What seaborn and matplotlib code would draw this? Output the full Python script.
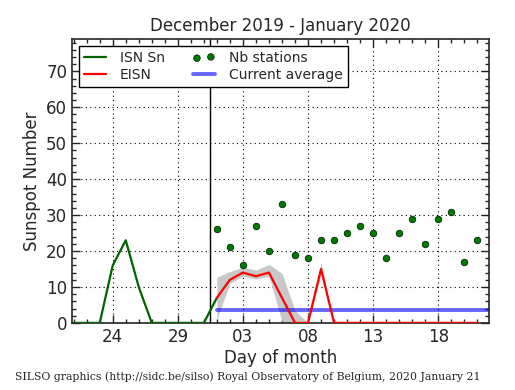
import numpy as np
import pandas as pd
import matplotlib
matplotlib.use("Agg")
import matplotlib.pyplot as plt
from matplotlib.ticker import MultipleLocator, FixedLocator, FixedFormatter
import seaborn as sns

# day index 0 = 21 December 2019, 31 = 21 January 2020
day_labels = ["24", "29", "03", "08", "13", "18"]
label_days = [3, 8, 13, 18, 23, 28]

# daily ISN Sn (21 Dec .. 1 Jan)
isn_days = list(range(0, 12))
isn_values = [0, 0, 0, 16, 23, 10, 0, 0, 0, 0, 0, 7]

# EISN (1 Jan .. 21 Jan) with error band
eisn_days = list(range(11, 32))
eisn_values = [7, 12, 14, 13, 14, 7, 0, 0, 15, 0, 0, 0, 0, 0, 0, 0, 0, 0, 0, 0, 0]
eisn_low = [1, 11, 13, 12.2, 13, 0.5, -3, 0, 13.5, 0, 0, 0, 0, 0, 0, 0, 0, 0, 0, 0, 0]
eisn_high = [12.7, 14.3, 15.5, 14.7, 16.3, 13.8, 3.5, 0, 16.8, 0, 0, 0, 0, 0, 0, 0, 0, 0, 0, 0, 0]

# number of stations
nb_stations = [26, 21, 16, 27, 20, 33, 19, 18, 23, 23, 25, 27, 25, 18, 25, 29, 22, 29, 31, 17, 23]

current_average = 3.7
month_change = 10.5

sns.set_style("ticks")
plt.rcParams['font.family'] = ['DejaVu Sans']
plt.rcParams['xtick.direction'] = 'in'
plt.rcParams['ytick.direction'] = 'in'

isn = pd.DataFrame({'day': isn_days, 'value': isn_values})
eisn = pd.DataFrame({'day': eisn_days, 'value': eisn_values,
                     'low': eisn_low, 'high': eisn_high, 'nb': nb_stations})
avg = pd.DataFrame({'day': [eisn_days[0], eisn_days[-1] + 1],
                    'value': [current_average, current_average]})

fig = plt.figure(figsize=(5.15, 3.9), dpi=100)
ax = fig.add_axes([0.140, 0.172, 0.810, 0.728])

ax.fill_between(eisn['day'], eisn['low'], eisn['high'], color='#c8c8c8', lw=0, zorder=1)
sns.lineplot(data=isn, x='day', y='value', color='#006400', lw=1.6, ax=ax, label='ISN Sn', zorder=3)
sns.lineplot(data=eisn, x='day', y='value', color='red', lw=1.6, ax=ax, label='EISN', zorder=3)
sns.scatterplot(data=eisn, x='day', y='nb', color='#007a00', edgecolor='#002a00', s=22,
                linewidth=0.6, ax=ax, label='Nb stations', zorder=4)
sns.lineplot(data=avg, x='day', y='value', color='blue', alpha=0.6, lw=2.8, ax=ax,
             label='Current average', zorder=2)
ax.axvline(month_change, color='black', lw=1, zorder=2)

ax.set_xlim(-0.12, 31.92)
ax.set_ylim(0, 79)
ax.xaxis.set_major_locator(FixedLocator(label_days))
ax.xaxis.set_major_formatter(FixedFormatter(day_labels))
ax.xaxis.set_minor_locator(MultipleLocator(1))
ax.yaxis.set_major_locator(MultipleLocator(10))
ax.yaxis.set_minor_locator(MultipleLocator(2))
ax.tick_params(which='both', top=True, right=True, labelsize=12)
ax.tick_params(which='major', length=6, width=1)
ax.tick_params(which='minor', length=3, width=1)
ax.grid(True, which='major', color='black', linestyle=(0, (1, 3)), lw=0.8)
for s in ax.spines.values():
    s.set_linewidth(1.2)

ax.set_title("December 2019 - January 2020", fontsize=12)
ax.set_xlabel("Day of month", fontsize=12, labelpad=2)
ax.set_ylabel("Sunspot Number", fontsize=12)

h, l = ax.get_legend_handles_labels()
order = [l.index(n) for n in ['ISN Sn', 'EISN', 'Nb stations', 'Current average']]
leg = ax.legend([h[i] for i in order], [l[i] for i in order], loc='upper left', ncol=2,
                fontsize=10, scatterpoints=2, fancybox=False, framealpha=1,
                edgecolor='black', borderaxespad=0.5, handlelength=1.6, handletextpad=1.0,
                columnspacing=2.0, labelspacing=0.22, borderpad=0.35)
leg.get_frame().set_linewidth(1.0)

fig.text(0.03, 0.025, "SILSO graphics (http://sidc.be/silso) Royal Observatory of Belgium, 2020 January 21",
         family='DejaVu Serif', fontsize=7.8)

fig.savefig("out.png", dpi=100)
